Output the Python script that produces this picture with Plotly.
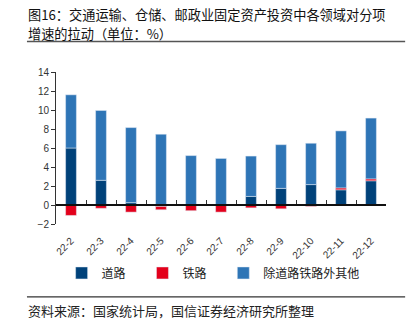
import plotly.graph_objects as go

categories = ["22-2", "22-3", "22-4", "22-5", "22-6", "22-7", "22-8", "22-9", "22-10", "22-11", "22-12"]
road = [6.0, 2.6, 0.25, -0.15, -0.05, -0.05, 0.9, 1.75, 2.15, 1.6, 2.55]
rail = [-1.1, -0.35, -0.75, -0.35, -0.55, -0.7, -0.3, -0.4, -0.15, 0.2, 0.2]
other = [5.6, 7.35, 7.9, 7.45, 5.2, 4.9, 4.25, 4.6, 4.35, 6.0, 6.4]
y_ticks = [-2, 0, 2, 4, 6, 8, 10, 12, 14]

title_line1 = "图16：交通运输、仓储、邮政业固定资产投资中各领域对分项"
title_line2 = "增速的拉动（单位：%）"
source_text = "资料来源：国家统计局，国信证券经济研究所整理"

font_family = "Noto Sans CJK SC, Liberation Sans, sans-serif"

fig = go.Figure()
fig.add_trace(go.Bar(x=categories, y=road, name="道路", marker_color="#00427a", width=0.36, legend="legend"))
fig.add_trace(go.Bar(x=categories, y=rail, name="铁路", marker_color="#e3001b", width=0.36, legend="legend2"))
fig.add_trace(go.Bar(x=categories, y=other, name="除道路铁路外其他", marker_color="#2e75b6", width=0.36,
                     legend="legend3"))
# invisible trace to carry the zero-line axis
fig.add_trace(go.Scatter(x=categories, y=[0] * len(categories), xaxis="x2", mode="markers",
                         marker=dict(opacity=0), showlegend=False, hoverinfo="skip"))

legend_common = dict(orientation="h", xanchor="left", y=-0.322, yanchor="middle",
                     font=dict(size=12, color="#222222"), bgcolor="rgba(0,0,0,0)")

y_min, y_max = -2, 14
fig.update_layout(
    width=420, height=329,
    margin=dict(l=56, r=34, t=72, b=105),
    barmode="relative",
    bargap=0.64,
    paper_bgcolor="white", plot_bgcolor="white",
    font=dict(family=font_family, color="#222222"),
    showlegend=True,
    legend=dict(x=0.017, **legend_common),
    legend2=dict(x=0.262, **legend_common),
    legend3=dict(x=0.507, **legend_common),
    xaxis=dict(type="category", categoryarray=categories, range=[-0.5, len(categories) - 0.5],
               showline=False, ticks="", tickangle=-45, showgrid=False, ticklabelstandoff=8,
               tickfont=dict(size=10, color="#333333", family="Liberation Sans, Arial, sans-serif")),
    xaxis2=dict(type="category", categoryarray=categories, range=[-0.5, len(categories) - 0.5],
                overlaying="x", anchor="free", position=(0 - y_min) / (y_max - y_min),
                showline=True, linecolor="#111111", linewidth=1.5,
                ticks="inside", tickson="boundaries", ticklen=4, tickcolor="#333333",
                showticklabels=False, showgrid=False),
    yaxis=dict(range=[y_min, y_max], tickvals=y_ticks, showline=True, linecolor="#333333",
               linewidth=1, ticks="outside", ticklen=4, tickcolor="#333333", showgrid=False,
               zeroline=False,
               tickfont=dict(size=10, color="#333333", family="Liberation Sans, Arial, sans-serif")),
)

for txt, yy in [(title_line1, 1.378), (title_line2, 1.255)]:
    fig.add_annotation(text=txt, xref="paper", yref="paper", x=-0.09, y=yy, yanchor="middle",
                       xanchor="left", align="left", showarrow=False,
                       font=dict(size=13.2, color="#111111", family=font_family))
fig.add_shape(type="line", xref="paper", yref="paper", x0=-0.088, x1=1.058, y0=1.2, y1=1.2,
              line=dict(color="#555555", width=1.5))
fig.add_shape(type="line", xref="paper", yref="paper", x0=-0.088, x1=1.058, y0=-0.48, y1=-0.48,
              line=dict(color="#333333", width=1.2))
fig.add_annotation(text=source_text, xref="paper", yref="paper", x=-0.09, y=-0.572, xanchor="left",
                   yanchor="middle", showarrow=False,
                   font=dict(size=13, color="#222222", family=font_family))

fig.write_html("out.html")
